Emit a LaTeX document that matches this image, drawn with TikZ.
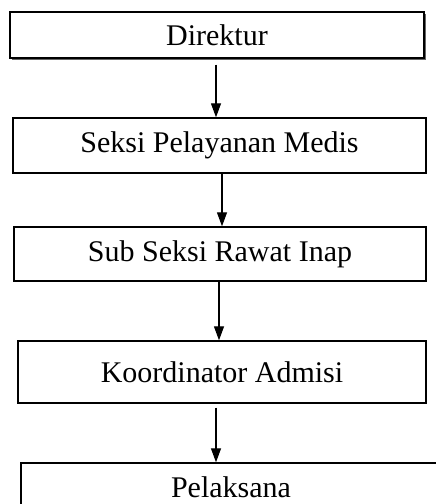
\documentclass[tikz,border=0pt]{standalone}
\usepackage{fontspec}
\setmainfont{Liberation Serif}
\usetikzlibrary{positioning,arrows.meta,shadows}
\tikzset{
->, % directed connectors
>={Triangle[width=10pt,length=14pt]}, % filled triangle heads
level/.style={draw, line width=1.4pt, fill=white, inner sep=0pt, font=\fontsize{30}{36}\selectfont}, % one box of the chart
}

\begin{document}
\begin{tikzpicture}[-, x=1pt, y=-1pt]
        \useasboundingbox (0,0) rectangle (436,504);
        \clip (0,0) rectangle (436,504);
        \node[level, minimum width=414pt, minimum height=46pt, drop shadow={shadow xshift=2pt, shadow yshift=-2pt, fill=black!60, opacity=1}] at (217,35) (dir) {Direktur};
        \node[level, minimum width=413pt, minimum height=55pt] at (219.5,145.5) (spm) {Seksi Pelayanan Medis};
        \node[level, minimum width=412pt, minimum height=54pt] at (220,254) (ssri) {Sub Seksi Rawat Inap};
        \node[level, minimum width=408pt, minimum height=62pt] at (222,372) (ka) {Koordinator Admisi};
        \node[level, minimum width=420pt, minimum height=48pt] at (231,487) (pel) {Pelaksana};
        \draw[->, line width=1.2pt] ([xshift=-1pt, yshift=-6pt]dir.south) -- ([xshift=-3.5pt]spm.north);
        \draw[->, line width=1.2pt] ([xshift=2.5pt]spm.south) -- ([xshift=2pt]ssri.north);
        \draw[->, line width=1.2pt] ([xshift=-1pt]ssri.south) -- ([xshift=-3pt]ka.north);
        \draw[->, line width=1.2pt] ([xshift=-6pt, yshift=-4pt]ka.south) -- ([xshift=-15pt]pel.north);
    \end{tikzpicture}
\end{document}
